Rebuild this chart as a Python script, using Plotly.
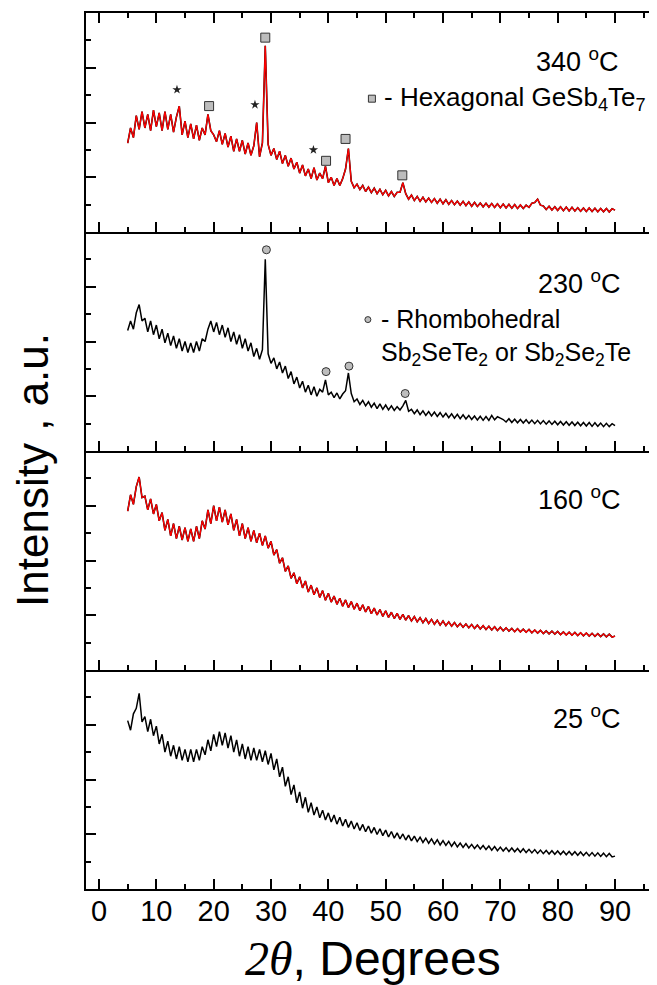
import numpy as np
import plotly.graph_objects as go
from plotly.subplots import make_subplots

# ---------------- data ----------------
two_theta = np.round(np.arange(5.0, 90.01, 0.5), 1)   # measurement grid, degrees (171 points)

int_340 = [3.25, 3.80, 3.45, 4.25, 3.75, 4.40, 3.80, 4.30, 3.70, 4.45, 3.85, 4.35, 3.70, 4.40, 3.75, 4.30, 3.65, 4.20, 4.60, 3.55,
           4.05, 3.45, 3.95, 3.40, 3.90, 3.35, 3.80, 3.55, 4.30, 3.70, 3.55, 3.30, 3.70, 3.20, 3.60, 3.10, 3.50, 2.95, 3.40, 2.95,
           3.35, 2.85, 3.25, 2.80, 3.15, 4.00, 2.75, 3.25, 6.80, 3.20, 2.80, 3.05, 2.65, 2.95, 2.50, 2.80, 2.40, 2.70, 2.30, 2.55,
           2.15, 2.45, 2.05, 2.30, 1.95, 2.35, 1.90, 2.15, 1.95, 2.40, 1.80, 2.00, 1.70, 1.95, 1.70, 1.95, 2.30, 3.05, 1.85, 1.62,
           1.75, 1.55, 1.70, 1.48, 1.64, 1.44, 1.60, 1.40, 1.56, 1.36, 1.52, 1.32, 1.48, 1.30, 1.45, 1.45, 1.80, 1.40, 1.20, 1.35,
           1.15, 1.30, 1.12, 1.27, 1.10, 1.24, 1.08, 1.22, 1.05, 1.20, 1.03, 1.18, 1.01, 1.15, 1.00, 1.13, 0.98, 1.12, 0.96, 1.10,
           0.94, 1.08, 0.93, 1.06, 0.92, 1.05, 0.91, 1.04, 0.90, 1.03, 0.89, 1.02, 0.88, 1.01, 0.87, 1.00, 0.86, 0.99, 0.86, 0.98,
           0.90, 1.05, 1.08, 1.20, 0.98, 0.95, 0.82, 0.94, 0.80, 0.92, 0.79, 0.92, 0.78, 0.91, 0.77, 0.90, 0.77, 0.89, 0.76, 0.88,
           0.75, 0.88, 0.75, 0.87, 0.74, 0.86, 0.74, 0.86, 0.73, 0.85, 0.80]

int_230 = [4.40, 4.75, 4.45, 5.05, 5.35, 4.75, 4.85, 4.35, 4.75, 4.25, 4.60, 4.10, 4.45, 3.95, 4.30, 3.85, 4.20, 3.75, 4.10, 3.65,
           4.00, 3.60, 3.95, 3.60, 4.00, 3.65, 4.10, 4.00, 4.45, 4.75, 4.35, 4.70, 4.25, 4.60, 4.15, 4.50, 4.00, 4.35, 3.90, 4.25,
           3.75, 4.10, 3.65, 3.95, 3.45, 3.75, 3.35, 3.70, 7.00, 3.55, 3.20, 3.40, 3.00, 3.25, 2.85, 3.10, 2.65, 2.90, 2.45, 2.70,
           2.30, 2.55, 2.15, 2.40, 2.05, 2.35, 2.00, 2.25, 2.15, 2.60, 2.05, 2.15, 1.95, 2.12, 1.90, 2.08, 2.20, 2.85, 2.10, 1.80,
           1.90, 1.70, 1.85, 1.65, 1.80, 1.60, 1.75, 1.55, 1.72, 1.52, 1.68, 1.50, 1.65, 1.48, 1.62, 1.50, 1.65, 1.85, 1.45, 1.52,
           1.36, 1.50, 1.33, 1.47, 1.30, 1.44, 1.28, 1.42, 1.26, 1.40, 1.24, 1.38, 1.22, 1.36, 1.20, 1.34, 1.18, 1.32, 1.17, 1.30,
           1.15, 1.28, 1.13, 1.27, 1.12, 1.26, 1.12, 1.30, 1.14, 1.25, 1.20, 1.15, 1.06, 1.18, 1.04, 1.16, 1.03, 1.15, 1.02, 1.14,
           1.01, 1.13, 1.00, 1.12, 0.99, 1.11, 0.98, 1.10, 0.97, 1.09, 0.96, 1.08, 0.95, 1.07, 0.94, 1.06, 0.93, 1.05, 0.92, 1.04,
           0.91, 1.04, 0.90, 1.03, 0.90, 1.02, 0.89, 1.01, 0.89, 1.00, 0.93]

int_160 = [5.80, 6.40, 6.05, 6.70, 7.05, 6.30, 6.35, 5.85, 6.25, 5.70, 6.05, 5.45, 5.75, 5.10, 5.50, 4.90, 5.35, 4.80, 5.25, 4.75,
           5.20, 4.70, 5.15, 4.70, 5.25, 4.80, 5.45, 5.15, 5.85, 5.35, 6.00, 5.45, 5.95, 5.40, 5.85, 5.30, 5.70, 5.10, 5.50, 4.90,
           5.35, 4.80, 5.20, 4.70, 5.10, 4.65, 5.00, 4.55, 4.90, 4.45, 4.70, 4.20, 4.40, 3.90, 4.10, 3.60, 3.80, 3.35, 3.55, 3.15,
           3.40, 3.00, 3.25, 2.85, 3.10, 2.75, 3.00, 2.65, 2.90, 2.55, 2.80, 2.48, 2.70, 2.40, 2.62, 2.33, 2.56, 2.28, 2.50, 2.22,
           2.44, 2.17, 2.38, 2.12, 2.32, 2.06, 2.26, 2.01, 2.21, 1.96, 2.16, 1.92, 2.11, 1.88, 2.07, 1.85, 2.03, 1.82, 1.99, 1.79,
           1.95, 1.76, 1.91, 1.73, 1.88, 1.70, 1.85, 1.67, 1.82, 1.64, 1.79, 1.62, 1.76, 1.60, 1.73, 1.58, 1.70, 1.56, 1.68, 1.54,
           1.66, 1.52, 1.64, 1.50, 1.62, 1.48, 1.60, 1.46, 1.58, 1.44, 1.56, 1.43, 1.54, 1.42, 1.52, 1.40, 1.51, 1.39, 1.49, 1.38,
           1.48, 1.36, 1.46, 1.35, 1.45, 1.33, 1.43, 1.32, 1.42, 1.31, 1.41, 1.29, 1.39, 1.28, 1.38, 1.27, 1.37, 1.26, 1.36, 1.25,
           1.35, 1.24, 1.34, 1.23, 1.33, 1.22, 1.32, 1.21, 1.31, 1.20, 1.24]

int_25 = [6.15, 5.80, 6.40, 6.60, 7.15, 6.10, 6.30, 5.75, 6.20, 5.60, 5.95, 5.30, 5.65, 5.00, 5.40, 4.85, 5.25, 4.75, 5.20, 4.70,
          5.10, 4.65, 5.10, 4.65, 5.10, 4.70, 5.20, 4.90, 5.45, 5.05, 5.65, 5.20, 5.75, 5.25, 5.70, 5.15, 5.60, 5.00, 5.45, 4.85,
          5.30, 4.75, 5.20, 4.70, 5.15, 4.70, 5.10, 4.65, 5.05, 4.55, 4.95, 4.35, 4.75, 4.10, 4.45, 3.75, 4.10, 3.45, 3.80, 3.15,
          3.55, 2.95, 3.35, 2.80, 3.15, 2.70, 3.00, 2.60, 2.88, 2.52, 2.78, 2.45, 2.70, 2.37, 2.62, 2.30, 2.55, 2.25, 2.48, 2.19,
          2.42, 2.14, 2.36, 2.09, 2.30, 2.04, 2.25, 1.99, 2.20, 1.95, 2.15, 1.90, 2.10, 1.86, 2.05, 1.83, 2.01, 1.79, 1.97, 1.76,
          1.93, 1.73, 1.89, 1.70, 1.86, 1.67, 1.83, 1.64, 1.80, 1.61, 1.77, 1.59, 1.74, 1.56, 1.71, 1.54, 1.68, 1.52, 1.66, 1.50,
          1.63, 1.48, 1.61, 1.46, 1.59, 1.44, 1.57, 1.42, 1.55, 1.40, 1.53, 1.39, 1.51, 1.37, 1.50, 1.36, 1.48, 1.34, 1.47, 1.33,
          1.45, 1.32, 1.44, 1.30, 1.42, 1.29, 1.41, 1.28, 1.40, 1.27, 1.39, 1.26, 1.38, 1.25, 1.37, 1.24, 1.36, 1.23, 1.35, 1.22,
          1.34, 1.21, 1.33, 1.20, 1.32, 1.19, 1.31, 1.18, 1.30, 1.17, 1.20]

# peak markers
hex_x = [19.2, 29.0, 39.6, 43.0, 52.9]
hex_y = [4.6, 7.1, 2.6, 3.4, 2.07]
star_x = [13.6, 27.2, 37.4]
star_y = [5.2, 4.65, 3.0]
rhomb_x = [29.2, 39.6, 43.6, 53.4]
rhomb_y = [7.35, 2.9, 3.1, 2.1]

temp_labels = ["340 <sup>o</sup>C", "230 <sup>o</sup>C", "160 <sup>o</sup>C", "25 <sup>o</sup>C"]
x_ticks = [0, 10, 20, 30, 40, 50, 60, 70, 80, 90]

# ---------------- figure ----------------
FONT = "Liberation Sans, Arial, sans-serif"
fig = make_subplots(rows=4, cols=1, shared_xaxes=True, vertical_spacing=0)

# panel 1 : 340 C (black + red overlapping)
fig.add_trace(go.Scatter(x=two_theta, y=int_340, mode="lines", line=dict(color="black", width=1.6)), 1, 1)
fig.add_trace(go.Scatter(x=two_theta, y=int_340, mode="lines", line=dict(color="#ff0000", width=1.3)), 1, 1)
fig.add_trace(go.Scatter(x=hex_x, y=hex_y, mode="markers",
                         marker=dict(symbol="square", size=9, color="#bdbdbd", line=dict(color="#333", width=1))), 1, 1)
fig.add_trace(go.Scatter(x=star_x, y=star_y, mode="markers",
                         marker=dict(symbol="star", size=7, color="#222")), 1, 1)
fig.add_trace(go.Scatter(x=[47.6], y=[4.87], mode="markers",
                         marker=dict(symbol="square", size=7, color="#bdbdbd", line=dict(color="#333", width=1))), 1, 1)

# panel 2 : 230 C
fig.add_trace(go.Scatter(x=two_theta, y=int_230, mode="lines", line=dict(color="black", width=1.5)), 2, 1)
fig.add_trace(go.Scatter(x=rhomb_x, y=rhomb_y, mode="markers",
                         marker=dict(symbol="circle", size=8, color="#bdbdbd", line=dict(color="#333", width=1))), 2, 1)
fig.add_trace(go.Scatter(x=[46.9], y=[4.8], mode="markers",
                         marker=dict(symbol="circle", size=6, color="#bdbdbd", line=dict(color="#333", width=1))), 2, 1)

# panel 3 : 160 C
fig.add_trace(go.Scatter(x=two_theta, y=int_160, mode="lines", line=dict(color="black", width=1.6)), 3, 1)
fig.add_trace(go.Scatter(x=two_theta, y=int_160, mode="lines", line=dict(color="#ff0000", width=1.3)), 3, 1)

# panel 4 : 25 C
fig.add_trace(go.Scatter(x=two_theta, y=int_25, mode="lines", line=dict(color="black", width=1.5)), 4, 1)

for r in range(1, 5):
    fig.update_xaxes(row=r, col=1, range=[-2.27, 97.85], showline=True, linecolor="black", linewidth=2,
                     ticks="inside", ticklen=10, tickwidth=2, tickcolor="black",
                     tickvals=x_ticks, showgrid=False, zeroline=False, automargin=False,
                     minor=dict(dtick=5, tick0=5, ticks="inside", ticklen=5, tickwidth=2, tickcolor="black"),
                     mirror="ticks" if r == 1 else False,
                     showticklabels=(r == 4),
                     tickfont=dict(family=FONT, size=29, color="black"))
    fig.update_yaxes(row=r, col=1, range=[0, 8], showline=True, linecolor="black", linewidth=2,
                     ticks="inside", ticklen=10, tickwidth=2, tickcolor="black",
                     tickvals=[2, 4, 6], showgrid=False, zeroline=False, automargin=False,
                     minor=dict(tickvals=[1, 3, 5, 7], ticks="inside", ticklen=5, tickwidth=2, tickcolor="black"),
                     mirror="ticks", showticklabels=False)

fig.update_xaxes(row=4, col=1, ticklabelstandoff=-5)

ann = []
label_y = [6.29, 6.17, 6.28, 6.28]
label_x = [91.1, 91.4, 91.4, 91.4]
for i, t in enumerate(temp_labels):
    ref = "" if i == 0 else str(i + 1)
    ann.append(dict(text=t, x=label_x[i], y=label_y[i], xref="x" + ref, yref="y" + ref,
                    xanchor="right", yanchor="middle", showarrow=False,
                    font=dict(family=FONT, size=27, color="black")))
ann.append(dict(text="- Hexagonal GeSb<sub>4</sub>Te<sub>7</sub>", x=49.3, y=4.87, xref="x", yref="y",
                xanchor="left", yanchor="middle", showarrow=False,
                font=dict(family=FONT, size=26, color="black")))
ann.append(dict(text="- Rhombohedral<br>Sb<sub>2</sub>SeTe<sub>2</sub> or Sb<sub>2</sub>Se<sub>2</sub>Te",
                x=48.8, y=4.15, xref="x2", yref="y2", xanchor="left", yanchor="middle", align="left",
                showarrow=False, font=dict(family=FONT, size=25, color="black")))
ann.append(dict(text="Intensity , a.u.", x=-0.093, y=0.478, xref="paper", yref="paper", textangle=-90,
                xanchor="center", yanchor="middle", showarrow=False,
                font=dict(family=FONT, size=44, color="black")))
ann.append(dict(text='<span style="font-family:Liberation Serif, Times New Roman, serif"><i>2θ</i></span>, Degrees',
                x=0.5, y=-0.0795, xref="paper", yref="paper", xanchor="center", yanchor="middle",
                showarrow=False, font=dict(family=FONT, size=48, color="black")))

# the page body adds an 8 px offset, so margins are reduced by that amount
fig.update_layout(width=657, height=985, margin=dict(l=78, r=5, t=5, b=104),
                  paper_bgcolor="white", plot_bgcolor="white", showlegend=False,
                  annotations=ann)

fig.write_html("out.html")
